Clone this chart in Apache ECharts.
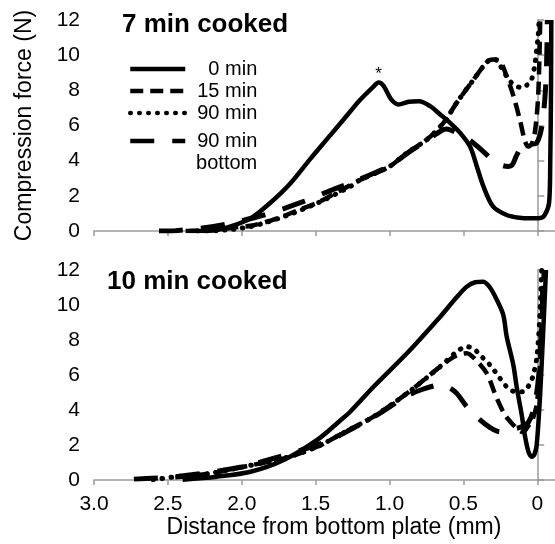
<!DOCTYPE html>
<html>
<head>
<meta charset="utf-8">
<script src="https://cdn.jsdelivr.net/npm/echarts@6/dist/echarts.min.js"></script>
<style>
  html, body { margin: 0; padding: 0; background: #fff; }
  #chart { width: 555px; height: 544px; }
</style>
</head>
<body>
<div id="chart"></div>
<script>
  // distance from bottom plate (mm), compression force (N)
  const panelTitles = ['7 min cooked', '10 min cooked']
  const seriesNames = ['0 min', '15 min', '90 min', '90 min bottom']
  const xTicks = [3, 2.5, 2, 1.5, 1, 0.5, 0]

  // 7 min cooked
  const top0 = [[2.35,0],[2.2,0.03],[2.08,0.25],[1.94,0.72],[1.81,1.58],[1.67,2.72],[1.54,4.06],[1.4,5.45],[1.27,6.75],[1.2,7.45],[1.11,8.2],[1.074,8.44],[1.04,8.25],[0.99,7.5],[0.94,7.2],[0.87,7.35],[0.8,7.38],[0.725,7.1],[0.657,6.63],[0.59,6.15],[0.522,5.58],[0.455,4.8],[0.41,3.7],[0.365,2.55],[0.3,1.4],[0.207,0.91],[0.12,0.75],[0.05,0.72],[-0.02,0.74],[-0.05,0.9],[-0.08,1.6],[-0.088,4],[-0.093,8],[-0.095,12]]
  const top15 = [[2.38,0],[2.2,0.05],[2.05,0.2],[1.94,0.3],[1.8,0.6],[1.716,0.85],[1.6,1.25],[1.49,1.6],[1.333,2.3],[1.2,2.9],[1.0,3.67],[0.882,4.44],[0.747,5.2],[0.635,6.15],[0.545,7.3],[0.432,8.6],[0.342,9.6],[0.3,9.75],[0.252,9.65],[0.207,8.8],[0.162,7.7],[0.117,6.3],[0.083,5.1],[0.06,4.8],[0.035,5.0],[0.015,5.7],[-0.005,7.5],[-0.015,10],[-0.02,12]]
  const top90 = [[2.3,0],[2.17,0.02],[1.94,0.25],[1.716,0.82],[1.49,1.58],[1.266,2.53],[1.2,2.9],[1.0,3.67],[0.882,4.44],[0.747,5.2],[0.635,6.15],[0.545,7.3],[0.432,8.6],[0.342,9.6],[0.3,9.8],[0.274,9.7],[0.2,8.7],[0.162,8.34],[0.105,8.15],[0.07,8.3],[0.038,8.63],[0.016,9.5],[-0.007,11.2],[-0.012,12]]
  const top90b = [[2.56,0],[2.45,0.02],[2.28,0.15],[2.1,0.4],[1.85,0.91],[1.58,1.68],[1.4,2.3],[1.2,2.95],[1.0,3.7],[0.882,4.4],[0.747,5.15],[0.65,5.7],[0.612,5.8],[0.55,5.6],[0.5,5.4],[0.432,5.0],[0.35,4.4],[0.3,4.0],[0.252,3.77],[0.2,3.67],[0.17,3.75],[0.14,4.3],[0.1,4.9],[0.07,5.1],[0.03,4.95],[0.004,5.0],[-0.03,5.9],[-0.052,7.6],[-0.063,9.5],[-0.068,12]]
  const starPoint = [1.074, 8.44]

  // 10 min cooked
  const bot0 = [[2.4,0.02],[2.17,0.19],[1.94,0.47],[1.716,1.14],[1.49,2.29],[1.333,3.4],[1.266,3.9],[1.108,5.33],[0.882,7.24],[0.657,9.33],[0.55,10.4],[0.477,11.05],[0.42,11.3],[0.365,11.33],[0.32,11.0],[0.274,10.3],[0.23,9.43],[0.207,8.2],[0.162,6.57],[0.139,5.3],[0.105,3.71],[0.083,2.5],[0.06,1.62],[0.038,1.33],[0.02,1.45],[0.004,2.0],[-0.018,4.67],[-0.04,8.47],[-0.059,12]]
  const bot15 = [[2.45,0.15],[2.21,0.38],[1.986,0.76],[1.716,1.24],[1.49,1.9],[1.333,2.6],[1.266,2.9],[1.108,3.62],[0.882,4.95],[0.657,6.48],[0.55,7.1],[0.477,7.24],[0.42,6.9],[0.342,6.1],[0.274,4.67],[0.218,3.71],[0.162,3.14],[0.117,2.8],[0.095,2.75],[0.06,3.1],[0.038,3.33],[0.004,4.29],[-0.018,6.57],[-0.03,9],[-0.045,12]]
  const bot90 = [[2.6,0.02],[2.44,0.19],[2.21,0.38],[1.986,0.76],[1.716,1.24],[1.49,1.9],[1.333,2.6],[1.266,2.9],[1.108,3.62],[0.882,4.95],[0.657,6.48],[0.55,7.3],[0.477,7.62],[0.43,7.5],[0.387,7.14],[0.32,6.57],[0.252,5.81],[0.207,5.33],[0.15,5.05],[0.095,5.05],[0.05,5.5],[0.027,6.0],[0.004,6.95],[-0.015,9],[-0.03,12]]
  const bot90b = [[2.73,0.05],[2.5,0.15],[2.25,0.4],[2.0,0.75],[1.8,1.2],[1.6,1.7],[1.4,2.3],[1.108,3.6],[0.882,4.8],[0.77,5.2],[0.657,5.43],[0.6,5.3],[0.545,4.95],[0.477,4.19],[0.387,3.43],[0.32,3.0],[0.25,2.75],[0.18,2.9],[0.12,3.0],[0.06,3.3],[0.02,4.2],[-0.01,6],[-0.03,9],[-0.04,12]]

  const font = 'Liberation Sans, Arial, sans-serif'
  const axisGray = '#9a9a9a'

  // line look per curve: solid, short dash, dots, long dash
  const styles = [
    {type: 'solid', width: 4.5},
    {type: [13, 7], width: 4.5},
    {type: [0.5, 8.5], width: 5, cap: 'round'},
    {type: [24, 18], width: 5}
  ]

  function xAxisFor(grid, showLabels) {
    return {
      gridIndex: grid,
      type: 'value',
      inverse: true,
      min: -0.12,
      max: 3,
      splitLine: {show: false},
      axisLine: {lineStyle: {color: axisGray, width: 1.5}},
      axisTick: {show: true, length: 5, customValues: xTicks, lineStyle: {color: axisGray, width: 1.5}},
      axisLabel: {
        show: showLabels,
        customValues: xTicks,
        margin: 14,
        color: '#000',
        fontSize: 21,
        fontFamily: font,
        formatter: v => v === 0 ? '0' : v.toFixed(1)
      },
      name: showLabels ? 'Distance from bottom plate (mm)' : '',
      nameLocation: 'middle',
      nameGap: 35,
      nameTextStyle: {color: '#000', fontSize: 23, fontFamily: font, padding: [0, 0, 0, 19]}
    }
  }

  function yAxisFor(grid, name) {
    return {
      gridIndex: grid,
      type: 'value',
      min: 0,
      max: 12,
      interval: 2,
      splitLine: {show: false},
      axisLine: {show: true, lineStyle: {color: axisGray, width: 1.5}},
      axisTick: {show: true, inside: true, length: 7, lineStyle: {color: axisGray, width: 1.5}},
      axisLabel: {color: '#000', fontSize: 21, fontFamily: font, margin: 14},
      name: name,
      nameLocation: 'middle',
      nameGap: 58,
      nameTextStyle: {color: '#000', fontSize: 23, fontFamily: font}
    }
  }

  function curve(i, grid, data) {
    return {
      name: seriesNames[i],
      type: 'line',
      xAxisIndex: grid,
      yAxisIndex: grid,
      symbol: 'none',
      smooth: 0.3,
      lineStyle: Object.assign({color: '#000'}, styles[i]),
      itemStyle: {color: '#000'},
      data: data,
      z: 10 - i
    }
  }

  const chart = echarts.init(document.getElementById('chart'))

  const topSolid = curve(0, 0, top0)
  topSolid.markPoint = {
    symbol: 'circle',
    symbolSize: 0,
    data: [{coord: starPoint}],
    label: {show: true, formatter: '*', position: 'top', distance: 0, color: '#000', fontSize: 17, fontFamily: font}
  }

  const legendText = {
    color: '#000',
    fontFamily: font,
    rich: {a: {width: 67, align: 'right', fontSize: 20, lineHeight: 22, color: '#000', fontFamily: font}}
  }
  const legendBase = {
    orient: 'vertical',
    left: 128,
    padding: 0,
    itemWidth: 55,
    itemHeight: 14,
    itemGap: 2,
    itemStyle: {opacity: 0},
    lineStyle: {width: 4.5},
    textStyle: legendText
  }

  chart.setOption({
    backgroundColor: '#fff',
    animation: false,
    title: [
      {text: panelTitles[0], left: 122, top: 12, padding: 0, textStyle: {fontSize: 26, fontWeight: 'bold', color: '#000', fontFamily: font}},
      {text: panelTitles[1], left: 107, top: 269, padding: 0, textStyle: {fontSize: 26, fontWeight: 'bold', color: '#000', fontFamily: font}}
    ],
    legend: [
      Object.assign({}, legendBase, {
        top: 59,
        data: seriesNames.slice(0, 3),
        formatter: name => '{a|' + name + '}'
      }),
      Object.assign({}, legendBase, {
        top: 109,
        data: [seriesNames[3]],
        formatter: () => '{a| }\n{a|90 min}\n{a|bottom}'
      })
    ],
    grid: [
      {left: 94, top: 20, width: 461, height: 211},
      {left: 94, top: 270, width: 461, height: 210}
    ],
    xAxis: [xAxisFor(0, false), xAxisFor(1, true)],
    yAxis: [yAxisFor(0, 'Compression force (N)'), yAxisFor(1, '')],
    series: [
      topSolid,
      curve(1, 0, top15),
      curve(2, 0, top90),
      curve(3, 0, top90b),
      curve(0, 1, bot0),
      curve(1, 1, bot15),
      curve(2, 1, bot90),
      curve(3, 1, bot90b)
    ]
  })
</script>
</body>
</html>
